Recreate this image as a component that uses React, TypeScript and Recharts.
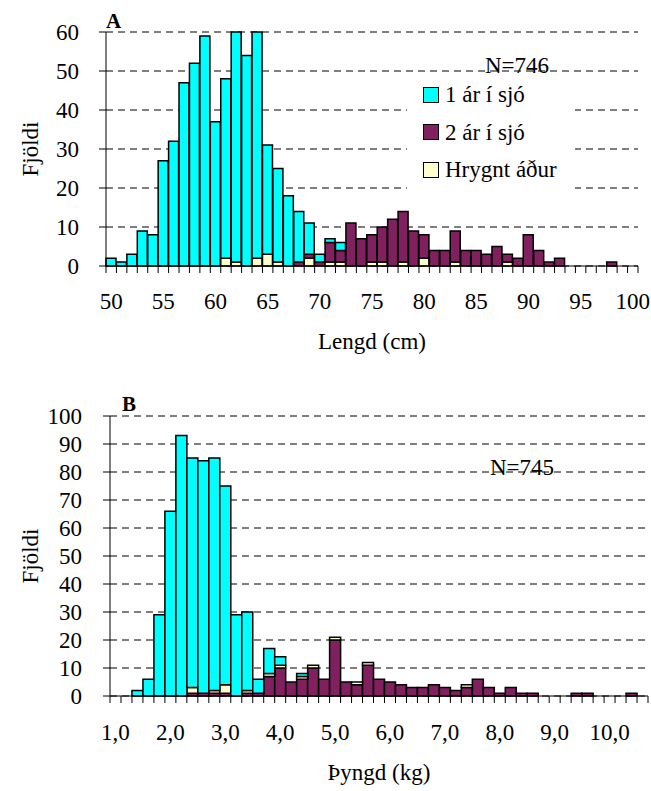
import { BarChart, Bar, XAxis, YAxis, CartesianGrid, Legend } from 'recharts';

const FONT = '"Liberation Serif", "Times New Roman", serif';
const CYAN = '#00FFFF';
const PLUM = '#80205E';
const CREAM = '#FFFFCC';

// A: length bins (cm)
const lengthBins = [
  50, 51, 52, 53, 54, 55, 56, 57, 58, 59,
  60, 61, 62, 63, 64, 65, 66, 67, 68, 69,
  70, 71, 72, 73, 74, 75, 76, 77, 78, 79,
  80, 81, 82, 83, 84, 85, 86, 87, 88, 89,
  90, 91, 92, 93, 94, 95, 96, 97, 98, 99,
  100,
];
const oneSeaA = [
  2, 1, 3, 9, 8, 27, 32, 47, 52, 59,
  37, 46, 59, 54, 58, 28, 24, 18, 13, 8,
  2, 1, 2, 0, 0, 0, 0, 0, 0, 0,
  0, 0, 0, 0, 0, 0, 0, 0, 0, 0,
  0, 0, 0, 0, 0, 0, 0, 0, 0, 0,
  0,
];
const twoSeaA = [
  0, 0, 0, 0, 0, 0, 0, 0, 0, 0,
  0, 0, 0, 0, 0, 0, 0, 0, 1, 1,
  1, 5, 3, 11, 7, 7, 9, 12, 13, 9,
  6, 4, 4, 8, 4, 4, 3, 5, 2, 2,
  8, 4, 1, 2, 0, 0, 0, 0, 1, 0,
  0,
];
const spawnedA = [
  0, 0, 0, 0, 0, 0, 0, 0, 0, 0,
  0, 2, 1, 0, 2, 3, 1, 0, 0, 2,
  0, 1, 1, 0, 0, 1, 1, 0, 1, 0,
  2, 0, 0, 1, 0, 0, 0, 0, 1, 0,
  0, 0, 0, 0, 0, 0, 0, 0, 0, 0,
  0,
];

// B: weight bins (kg)
const weightBins = [
  '1,0', '1,2', '1,4', '1,6', '1,8', '2,0', '2,2', '2,4', '2,6', '2,8',
  '3,0', '3,2', '3,4', '3,6', '3,8', '4,0', '4,2', '4,4', '4,6', '4,8',
  '5,0', '5,2', '5,4', '5,6', '5,8', '6,0', '6,2', '6,4', '6,6', '6,8',
  '7,0', '7,2', '7,4', '7,6', '7,8', '8,0', '8,2', '8,4', '8,6', '8,8',
  '9,0', '9,2', '9,4', '9,6', '9,8', '10,0', '10,2', '10,4', '10,6',
];
const oneSeaB = [
  0, 0, 2, 6, 29, 66, 93, 82, 83, 83,
  71, 29, 28, 5, 9, 3, 0, 1, 0, 0,
  0, 0, 0, 0, 0, 0, 0, 0, 0, 0,
  0, 0, 0, 0, 0, 0, 0, 0, 0, 0,
  0, 0, 0, 0, 0, 0, 0, 0, 0,
];
const twoSeaB = [
  0, 0, 0, 0, 0, 0, 0, 1, 1, 1,
  1, 0, 1, 1, 7, 10, 5, 6, 10, 6,
  20, 5, 4, 11, 6, 5, 4, 3, 3, 4,
  3, 2, 3, 6, 3, 1, 3, 1, 1, 0,
  0, 0, 1, 1, 0, 0, 0, 1, 0,
];
const spawnedB = [
  0, 0, 0, 0, 0, 0, 0, 2, 0, 1,
  3, 0, 1, 0, 1, 1, 0, 1, 1, 0,
  1, 0, 1, 1, 0, 0, 0, 0, 0, 0,
  0, 0, 1, 0, 0, 0, 0, 0, 0, 0,
  0, 0, 0, 0, 0, 0, 0, 0, 0,
];

const ticksA = [0, 10, 20, 30, 40, 50, 60];
const ticksB = [0, 10, 20, 30, 40, 50, 60, 70, 80, 90, 100];

const toRows = (bins: (string | number)[], one: number[], two: number[], spawned: number[]) =>
  bins.map((bin, i) => ({ bin, one: one[i], two: two[i], spawned: spawned[i] }));

const dataA = toRows(lengthBins, oneSeaA, twoSeaA, spawnedA);
const dataB = toRows(weightBins, oneSeaB, twoSeaB, spawnedB);

const legendItems = [
  { name: '1 ár í sjó', color: CYAN },
  { name: '2 ár í sjó', color: PLUM },
  { name: 'Hrygnt áður', color: CREAM },
];

// excel style: tick marks between categories, label every 5th bin
const binTick = (count: number, labelDy: number) => (props: any) => {
  const { x, y, payload, index } = props;
  const half = payload?.offset ?? 0;
  return (
    <g>
      <line x1={x - half} x2={x - half} y1={y} y2={y + 7} stroke="#000" />
      {index === count - 1 && (
        <line x1={x + half} x2={x + half} y1={y} y2={y + 7} stroke="#000" />
      )}
      {index % 5 === 0 && (
        <text x={x} y={y + labelDy} textAnchor="middle" fontSize={23} fontFamily={FONT} fill="#000">
          {payload.value}
        </text>
      )}
    </g>
  );
};

const yTitle = (props: any) => {
  const vb = props.viewBox;
  const cy = vb.y + vb.height / 2;
  return (
    <text
      x={30}
      y={cy}
      transform={`rotate(-90, 30, ${cy})`}
      textAnchor="middle"
      dominantBaseline="central"
      fontSize={23}
      fontFamily={FONT}
      fill="#000"
    >
      Fjöldi
    </text>
  );
};

const xTitle = (text: string, dy: number) => (props: any) => {
  const vb = props.viewBox;
  return (
    <text x={vb.x + vb.width / 2} y={vb.y + dy} textAnchor="middle" fontSize={23} fontFamily={FONT} fill="#000">
      {text}
    </text>
  );
};

const renderLegend = () => (
  <div style={{ background: '#fff', paddingLeft: 16, fontFamily: FONT, fontSize: 23, color: '#000' }}>
    {legendItems.map((item) => (
      <div key={item.name} style={{ display: 'flex', alignItems: 'center', height: 37.5 }}>
        <span
          style={{
            display: 'inline-block',
            boxSizing: 'border-box',
            width: 16,
            height: 16,
            border: '1.5px solid #000',
            background: item.color,
            marginRight: 6,
          }}
        />
        <span style={{ lineHeight: 1 }}>{item.name}</span>
      </div>
    ))}
  </div>
);

const tickStyle = { fontSize: 23, fill: '#000', fontFamily: FONT };
const label = (top: number, left: number, size: number, bold: boolean) => ({
  position: 'absolute' as const,
  top,
  left,
  fontSize: size,
  lineHeight: 1,
  fontWeight: bold ? 700 : 400,
  fontFamily: FONT,
  color: '#000',
  whiteSpace: 'nowrap' as const,
});

const App = () => {
  return (
    <div style={{ position: 'absolute', left: 0, top: 0, width: 651, height: 791, background: '#fff' }}>
      <div style={{ position: 'absolute', left: 0, top: 0 }}>
        <BarChart
          width={651}
          height={360}
          data={dataA}
          margin={{ top: 32, right: 13, left: 0, bottom: 0 }}
          barCategoryGap={0}
          barGap={0}
        >
          <CartesianGrid vertical={false} stroke="#000" strokeDasharray="7 5" />
          <XAxis
            dataKey="bin"
            type="category"
            interval={0}
            height={94}
            tickSize={0}
            tickMargin={0}
            tickLine={false}
            axisLine={{ stroke: '#000' }}
            tick={binTick(lengthBins.length, 43)}
            label={xTitle('Lengd (cm)', 83)}
          />
          <YAxis
            width={106}
            domain={[0, 60]}
            ticks={ticksA}
            interval={0}
            tickSize={7}
            tickMargin={20}
            axisLine={{ stroke: '#000' }}
            tickLine={{ stroke: '#000' }}
            tick={tickStyle}
            label={yTitle}
          />
          <Legend
            layout="vertical"
            align="center"
            verticalAlign="middle"
            content={renderLegend}
            wrapperStyle={{ left: 407, top: 76, width: 168, height: 112 }}
          />
          <Bar dataKey="spawned" stackId="a" fill={CREAM} stroke="#000" strokeWidth={1.5} isAnimationActive={false} />
          <Bar dataKey="two" stackId="a" fill={PLUM} stroke="#000" strokeWidth={1.5} isAnimationActive={false} />
          <Bar dataKey="one" stackId="a" fill={CYAN} stroke="#000" strokeWidth={1.5} isAnimationActive={false} />
        </BarChart>
      </div>
      <span style={label(11.4, 106, 21, true)}>A</span>
      <span style={label(54.3, 485, 23, false)}>N=746</span>

      <div style={{ position: 'absolute', left: 0, top: 380 }}>
        <BarChart
          width={651}
          height={411}
          data={dataB}
          margin={{ top: 36, right: 3, left: 0, bottom: 0 }}
          barCategoryGap={0}
          barGap={0}
        >
          <CartesianGrid vertical={false} stroke="#000" strokeDasharray="7 5" />
          <XAxis
            dataKey="bin"
            type="category"
            interval={0}
            height={95}
            tickSize={0}
            tickMargin={0}
            tickLine={false}
            axisLine={{ stroke: '#000' }}
            tick={binTick(weightBins.length, 44)}
            label={xTitle('Þyngd (kg)', 84)}
          />
          <YAxis
            width={110}
            domain={[0, 100]}
            ticks={ticksB}
            interval={0}
            tickSize={7}
            tickMargin={21}
            axisLine={{ stroke: '#000' }}
            tickLine={{ stroke: '#000' }}
            tick={tickStyle}
            label={yTitle}
          />
          <Bar dataKey="two" stackId="b" fill={PLUM} stroke="#000" strokeWidth={1.5} isAnimationActive={false} />
          <Bar dataKey="spawned" stackId="b" fill={CREAM} stroke="#000" strokeWidth={1.5} isAnimationActive={false} />
          <Bar dataKey="one" stackId="b" fill={CYAN} stroke="#000" strokeWidth={1.5} isAnimationActive={false} />
        </BarChart>
      </div>
      <span style={label(394.4, 122, 21, true)}>B</span>
      <span style={label(456.3, 490, 23, false)}>N=745</span>
    </div>
  );
};

export default App;
